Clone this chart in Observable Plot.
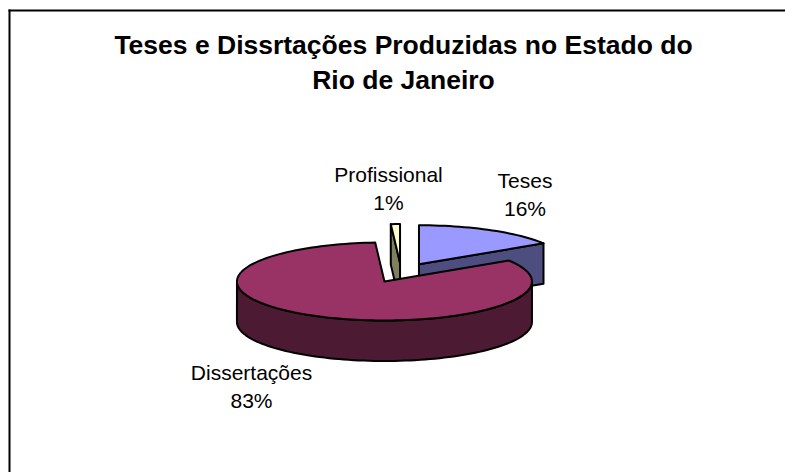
<!DOCTYPE html>
<html lang="pt">
<head>
<meta charset="utf-8">
<title>Teses e Dissertações</title>
<script src="https://cdn.jsdelivr.net/npm/d3@7"></script>
<script src="https://cdn.jsdelivr.net/npm/@observablehq/plot@0.6"></script>
<style>
  html, body { margin: 0; padding: 0; background: #fff; }
  svg { display: block; }
</style>
</head>
<body>
<div id="chart"></div>
<script>
// Shares of theses and dissertations, in percent, clockwise from 12 o'clock.
const categories = ["Teses", "Dissertações", "Profissional"];
const shares = [16, 83, 1];
const topColors = ["#9999ff", "#993366", "#ffffcc"];
const wallColors = ["#4d4d80", "#4d1a33", "#80805f"];
const titleLines = ["Teses e Dissrtações Produzidas no Estado do", "Rio de Janeiro"];

const width = 785, height = 472;
const font = "'Liberation Sans', Arial, sans-serif";

// Tilted pie: an ellipse with a vertical wall below it, every slice pulled out radially.
const pie = {cx: 400.7, cy: 272.3, a: 147.5, b: 39, depth: 40.5, explode: 0.25};
const rad = (deg) => (deg * Math.PI) / 180;
const rim = (deg, c, dy = 0) => ({
  x: c.x + pie.a * Math.sin(rad(deg)),
  y: c.y - pie.b * Math.cos(rad(deg)) + dy
});
const arc = (from, to, c, dy = 0) => {
  const n = Math.max(2, Math.ceil(Math.abs(to - from) / 2));
  return d3.range(n + 1).map((i) => rim(from + ((to - from) * i) / n, c, dy));
};
const closed = (pts) => [...pts, pts[0]];

let start = 0;
const slices = categories.map((name, i) => {
  const sweep = (shares[i] / d3.sum(shares)) * 360;
  const from = start, to = start + sweep, mid = start + sweep / 2;
  start = to;
  const c = {
    x: pie.cx + pie.explode * pie.a * Math.sin(rad(mid)),
    y: pie.cy - pie.explode * pie.b * Math.cos(rad(mid))
  };
  return {name, from, to, c, top: topColors[i], wall: wallColors[i]};
});
const [teses, dissertacoes, profissional] = slices;

const sliceTop = (s) => closed([s.c, ...arc(s.from, s.to, s.c)]);
// Flat cut face of a slice, running from its centre to the rim at the given angle.
const cutFace = (s, deg) => {
  const p = rim(deg, s.c);
  return closed([s.c, p, {x: p.x, y: p.y + pie.depth}, {x: s.c.x, y: s.c.y + pie.depth}]);
};
// Outer wall of the maroon slice: the front half of its rim.
const frontWall = (s) =>
  closed([...arc(90, 270, s.c), ...arc(270, 90, s.c, pie.depth)]);

const shape = (pts, fill) =>
  Plot.line(pts, {x: "x", y: "y", fill, stroke: "#000", strokeWidth: 2, strokeLinejoin: "round"});

const label = (i, x, y) =>
  Plot.text([`${categories[i]}\n${shares[i]}%`], {
    x: () => x, y: () => y, text: (d) => d,
    fontSize: 21, lineHeight: 1.33, fill: "#000"
  });

const chart = Plot.plot({
  width, height,
  marginLeft: 9, marginTop: 10, marginRight: 0, marginBottom: 0,
  x: {domain: [9, width], range: [9, width], axis: null},
  y: {domain: [10, height], range: [10, height], axis: null},
  style: {fontFamily: font, background: "#fff"},
  marks: [
    Plot.frame({anchor: "top", stroke: "#000", strokeWidth: 2}),
    Plot.frame({anchor: "left", stroke: "#000", strokeWidth: 2}),
    Plot.text(titleLines, {
      x: () => 403, y: (d, i) => 45 + i * 35, text: (d) => d,
      fontSize: 26.5, fontWeight: "bold", fill: "#000"
    }),
    shape(cutFace(teses, teses.to), teses.wall),
    shape(sliceTop(teses), teses.top),
    shape(cutFace(profissional, profissional.from), profissional.wall),
    shape(sliceTop(profissional), profissional.top),
    shape(frontWall(dissertacoes), dissertacoes.wall),
    shape(sliceTop(dissertacoes), dissertacoes.top),
    label(0, 524.5, 193),
    label(1, 251, 385),
    label(2, 388, 187)
  ]
});
document.getElementById("chart").append(chart);
</script>
</body>
</html>
